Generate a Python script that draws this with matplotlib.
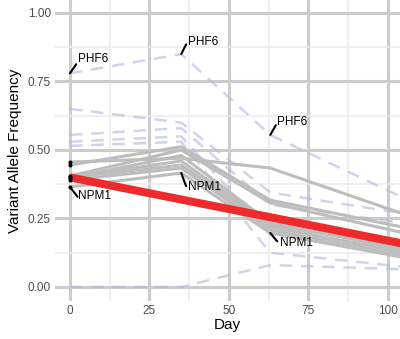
import matplotlib
matplotlib.use("Agg")
import matplotlib.pyplot as plt
import numpy as np

plt.rcParams['font.family'] = ['Liberation Sans', 'DejaVu Sans']

days = [0, 35, 63, 104]

# NPM1 clone samples (solid grey)
npm1_series = [
    [0.456, 0.470, 0.434, 0.270],
    [0.445, 0.512, 0.317, 0.220],
    [0.405, 0.500, 0.307, 0.200],
    [0.398, 0.480, 0.234, 0.140],
    [0.400, 0.445, 0.219, 0.130],
    [0.390, 0.434, 0.208, 0.120],
    [0.365, 0.416, 0.197, 0.110],
    [0.400, 0.460, 0.226, 0.150],
]

# other mutations (dashed lavender)
other_series = [
    [0.780, 0.850, 0.555, 0.330],
    [0.650, 0.600, 0.345, 0.270],
    [0.555, 0.580, 0.300, 0.235],
    [0.530, 0.550, 0.190, 0.150],
    [0.515, 0.530, 0.125, 0.075],
    [0.000, 0.000, 0.080, 0.065],
]

# fitted trend (red)
trend_days = [0, 104]
trend_vals = [0.400, 0.160]

# labels: (text, day, value)
label_text = ["NPM1", "NPM1", "NPM1", "PHF6", "PHF6", "PHF6"]
label_day = [0, 35, 63, 0, 35, 63]
label_val = [0.365, 0.416, 0.197, 0.780, 0.850, 0.555]

W, H = 400, 339
fig = plt.figure(figsize=(W / 100, H / 100), dpi=100)
ax = fig.add_axes([55 / W, 1 - 300.7 / H, 345 / W, 300.7 / H])

ax.set_xlim(-4.7, 103.8)
ax.set_ylim(-0.05, 1.0474)

for s in ax.spines.values():
    s.set_visible(False)

ax.set_xticks([0, 25, 50, 75, 100])
ax.set_yticks([0, 0.25, 0.5, 0.75, 1.0])
ax.set_yticklabels(["0.00", "0.25", "0.50", "0.75", "1.00"])
ax.set_xticks([12.5, 37.5, 62.5, 87.5], minor=True)
ax.set_yticks([0.125, 0.375, 0.625, 0.875], minor=True)
ax.grid(which='major', color='#cccccc', linewidth=2.2, zorder=0)
ax.grid(which='minor', color='#ebebeb', linewidth=1.1, zorder=0)
ax.tick_params(which='both', length=0)
ax.tick_params(axis='both', labelsize=8.5, labelcolor='#4d4d4d', pad=3)
ax.set_axisbelow(True)

for vals in other_series:
    ax.plot(days, vals, color='#aeb8de', alpha=0.6, linewidth=1.8,
            dashes=(5, 3.5), zorder=2, solid_capstyle='butt')

for vals in npm1_series:
    ax.plot(days, vals, color='#bdbdbd', linewidth=2.2, zorder=3)

ax.plot(trend_days, trend_vals, color='#ee2a2a', linewidth=5.8,
        solid_capstyle='butt', zorder=4)

start_vals = sorted(set(v[0] for v in npm1_series))
ax.scatter([0] * len(start_vals), start_vals, s=8, color='black', zorder=5,
           linewidths=0)

# label segment and text offsets in points
seg_off = {("NPM1", 0): (5.5, -7), ("NPM1", 35): (3.5, -9.5), ("NPM1", 63): (5, -6),
           ("PHF6", 0): (4.5, 6.5), ("PHF6", 35): (3.5, 7), ("PHF6", 63): (4, 7)}
txt_off = {("NPM1", 0): (6, -6.5), ("NPM1", 35): (5, -10), ("NPM1", 63): (7, -7.5),
           ("PHF6", 0): (6, 10), ("PHF6", 35): (5, 9), ("PHF6", 63): (5, 9)}
for t, d, v in zip(label_text, label_day, label_val):
    so = seg_off[(t, d)]
    to = txt_off[(t, d)]
    ax.annotate('', xy=(d, v), xytext=so, textcoords='offset points',
                arrowprops=dict(arrowstyle='-', color='black', lw=1.5,
                                shrinkA=0, shrinkB=0), zorder=6)
    ax.annotate(t, xy=(d, v), xytext=to, textcoords='offset points',
                ha='left', va='center', fontsize=8.5, color='black', zorder=6)

ax.set_xlabel("Day", fontsize=11, labelpad=1)
ax.set_ylabel("Variant Allele Frequency", fontsize=11, labelpad=4)

fig.savefig("out.png", dpi=100)
